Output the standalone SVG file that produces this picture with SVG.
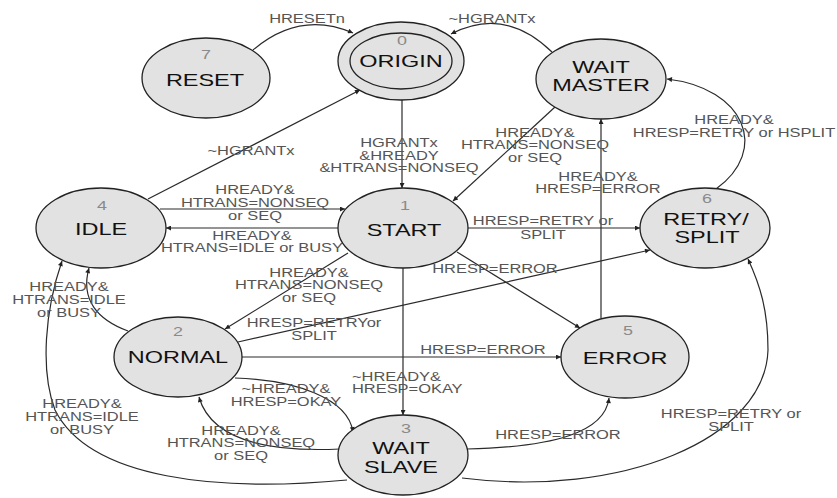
<svg xmlns="http://www.w3.org/2000/svg" width="837" height="498" viewBox="0 0 837 498">
<style>
.node ellipse{fill:#e2e2e2;stroke:#222;stroke-width:1.3}
.edge path{fill:none;stroke:#2a2a2a;stroke-width:1.2;marker-end:url(#arr)}
text{font-family:"Liberation Sans",Arial,sans-serif}
.nm{font-size:17px;fill:#111;text-anchor:middle;transform:scale(1.38,1)}
.num{font-size:13px;fill:#8a8a8a;text-anchor:middle;transform:scale(1.38,1)}
.lb{font-size:12px;fill:#555;text-anchor:middle;transform:scale(1.37,1)}
.lbs{font-size:12px;fill:#555;text-anchor:start;transform:scale(1.37,1)}
</style>
<defs>
<marker id="arr" viewBox="0 0 10 10" refX="10" refY="5" markerWidth="7" markerHeight="5" markerUnits="userSpaceOnUse" orient="auto">
<path d="M0,0 L10,5 L0,10 z" fill="#222"/>
</marker>
</defs>
<rect width="837" height="498" fill="#fff"/>

<g id="edges" class="edge">
<path d="M253,50 Q300,10 353,33"/>
<path d="M552,52 Q505,6 451,34"/>
<path d="M402,100 L402,188"/>
<path d="M148,199 L360,90"/>
<path d="M160,209 L345,209"/>
<path d="M338,228 L166,228"/>
<path d="M555,107 L453,201"/>
<path d="M468,228 L640,228"/>
<path d="M601,318 L601,119"/>
<path d="M716,189 C770,150 745,88 667,79"/>
<path d="M457,252 L580,328"/>
<path d="M238,342 L650,250"/>
<path d="M348,253 L225,329"/>
<path d="M128,331 C98,320 80,300 89,268"/>
<path d="M242,357 L561,357"/>
<path d="M403,268 L403,415"/>
<path d="M235,378 C295,380 348,398 353,432"/>
<path d="M340,449 C275,452 212,443 199,397"/>
<path d="M347,480 C220,492 90,480 55,410 C40,370 45,310 62,261"/>
<path d="M467,449 C555,447 605,432 609,398"/>
<path d="M462,478 C620,498 765,440 768,350 C768,310 760,285 748,259"/>
</g>

<g id="edge-labels">
<g transform="translate(307,23)"><text class="lb">HRESETn</text></g>
<g transform="translate(492,23)"><text class="lb">~HGRANTx</text></g>
<g transform="translate(399,147)"><text class="lb"><tspan x="0" y="0">HGRANTx</tspan><tspan x="0" y="12.7">&amp;HREADY</tspan><tspan x="0" y="25">&amp;HTRANS=NONSEQ</tspan></text></g>
<g transform="translate(251,155)"><text class="lb">~HGRANTx</text></g>
<g transform="translate(255,194)"><text class="lb"><tspan x="0" y="0">HREADY&amp;</tspan><tspan x="0" y="13">HTRANS=NONSEQ</tspan><tspan x="0" y="26">or SEQ</tspan></text></g>
<g transform="translate(252,240)"><text class="lb"><tspan x="0" y="0">HREADY&amp;</tspan><tspan x="0" y="12.5">HTRANS=IDLE or BUSY</tspan></text></g>
<g transform="translate(535,137)"><text class="lb"><tspan x="0" y="0">HREADY&amp;</tspan><tspan x="0" y="12.5">HTRANS=NONSEQ</tspan><tspan x="0" y="25">or SEQ</tspan></text></g>
<g transform="translate(543,225)"><text class="lb"><tspan x="0" y="0">HRESP=RETRY or</tspan><tspan x="0" y="14">SPLIT</tspan></text></g>
<g transform="translate(598,181)"><text class="lb"><tspan x="0" y="0">HREADY&amp;</tspan><tspan x="0" y="12">HRESP=ERROR</tspan></text></g>
<g transform="translate(734,124)"><text class="lb"><tspan x="0" y="0">HREADY&amp;</tspan><tspan x="0" y="13">HRESP=RETRY or HSPLIT</tspan></text></g>
<g transform="translate(495,273)"><text class="lb">HRESP=ERROR</text></g>
<g transform="translate(314,327)"><text class="lb"><tspan x="0" y="0">HRESP=RETRYor</tspan><tspan x="0" y="13">SPLIT</tspan></text></g>
<g transform="translate(309,277)"><text class="lb"><tspan x="0" y="0">HREADY&amp;</tspan><tspan x="0" y="12.5">HTRANS=NONSEQ</tspan><tspan x="0" y="25">or SEQ</tspan></text></g>
<g transform="translate(69,291)"><text class="lb"><tspan x="0" y="0">HREADY&amp;</tspan><tspan x="0" y="13">HTRANS=IDLE</tspan><tspan x="0" y="26">or BUSY</tspan></text></g>
<g transform="translate(483,354)"><text class="lb">HRESP=ERROR</text></g>
<g transform="translate(352,381)"><text class="lbs"><tspan x="0" y="0">~HREADY&amp;</tspan><tspan x="0" y="12.5">HRESP=OKAY</tspan></text></g>
<g transform="translate(286,393)"><text class="lb"><tspan x="0" y="0">~HREADY&amp;</tspan><tspan x="0" y="13">HRESP=OKAY</tspan></text></g>
<g transform="translate(241,435)"><text class="lb"><tspan x="0" y="0">HREADY&amp;</tspan><tspan x="0" y="12.5">HTRANS=NONSEQ</tspan><tspan x="0" y="25">or SEQ</tspan></text></g>
<g transform="translate(82,408)"><text class="lb"><tspan x="0" y="0">HREADY&amp;</tspan><tspan x="0" y="13.5">HTRANS=IDLE</tspan><tspan x="0" y="26">or BUSY</tspan></text></g>
<g transform="translate(558,439)"><text class="lb">HRESP=ERROR</text></g>
<g transform="translate(731,418)"><text class="lb"><tspan x="0" y="0">HRESP=RETRY or</tspan><tspan x="0" y="13">SPLIT</tspan></text></g>
</g>

<g id="node-7" class="node">
<ellipse cx="206" cy="78" rx="64" ry="40"/>
<g transform="translate(206,59)"><text class="num">7</text></g>
<g transform="translate(205,86)"><text class="nm">RESET</text></g>
</g>
<g id="node-0" class="node">
<ellipse cx="401" cy="61" rx="63" ry="39"/>
<ellipse cx="401" cy="61" rx="51" ry="28"/>
<g transform="translate(402,45)"><text class="num">0</text></g>
<g transform="translate(401,67)"><text class="nm">ORIGIN</text></g>
</g>
<g id="node-wait-master" class="node">
<ellipse cx="601" cy="79" rx="65" ry="40"/>
<g transform="translate(601,73)"><text class="nm">WAIT</text></g>
<g transform="translate(601,91)"><text class="nm">MASTER</text></g>
</g>
<g id="node-1" class="node">
<ellipse cx="403" cy="228" rx="65" ry="40"/>
<g transform="translate(405,210)"><text class="num">1</text></g>
<g transform="translate(404,236)"><text class="nm">START</text></g>
</g>
<g id="node-4" class="node">
<ellipse cx="101" cy="228" rx="65" ry="40"/>
<g transform="translate(102,210)"><text class="num">4</text></g>
<g transform="translate(101,235)"><text class="nm">IDLE</text></g>
</g>
<g id="node-6" class="node">
<ellipse cx="705" cy="228" rx="65" ry="40"/>
<g transform="translate(707,203)"><text class="num">6</text></g>
<g transform="translate(706,225)"><text class="nm">RETRY/</text></g>
<g transform="translate(707,243)"><text class="nm">SPLIT</text></g>
</g>
<g id="node-2" class="node">
<ellipse cx="178" cy="357" rx="64" ry="40"/>
<g transform="translate(178,336)"><text class="num">2</text></g>
<g transform="translate(178,363)"><text class="nm">NORMAL</text></g>
</g>
<g id="node-5" class="node">
<ellipse cx="625" cy="357" rx="64" ry="41"/>
<g transform="translate(628,335)"><text class="num">5</text></g>
<g transform="translate(625,364)"><text class="nm">ERROR</text></g>
</g>
<g id="node-3" class="node">
<ellipse cx="403" cy="455" rx="65" ry="40"/>
<g transform="translate(406,433)"><text class="num">3</text></g>
<g transform="translate(401,454)"><text class="nm">WAIT</text></g>
<g transform="translate(401,473)"><text class="nm">SLAVE</text></g>
</g>
</svg>
